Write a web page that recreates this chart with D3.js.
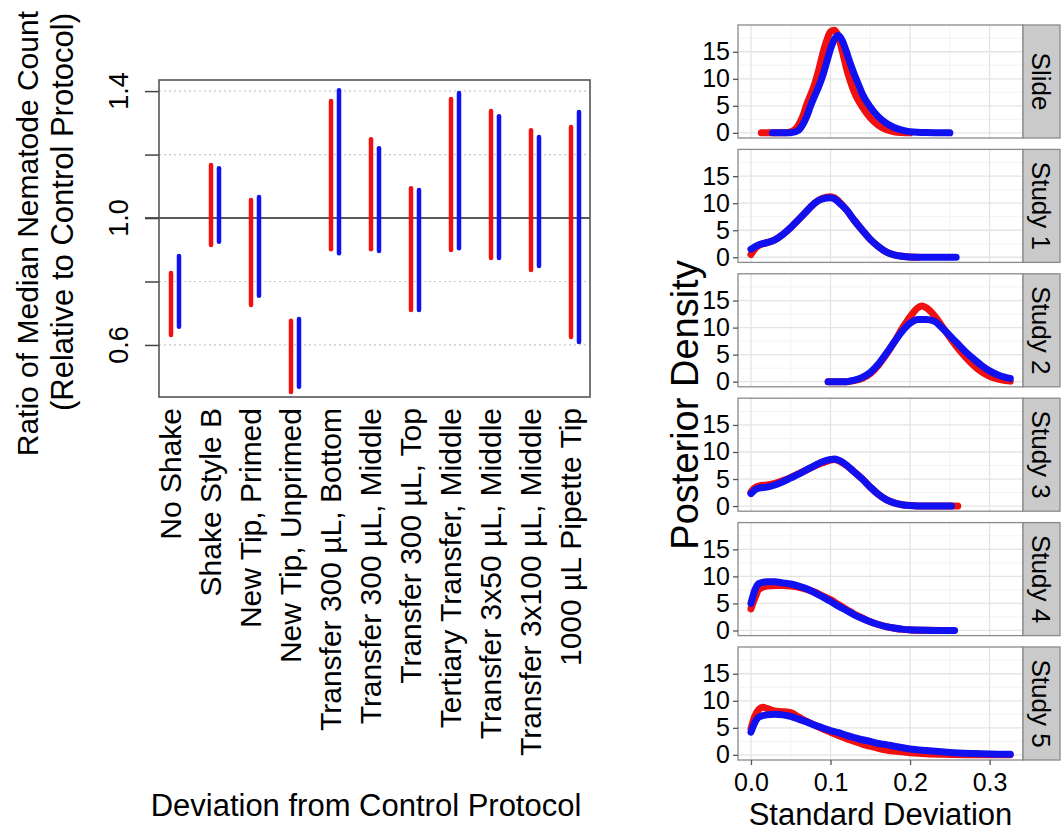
<!DOCTYPE html>
<html><head><meta charset="utf-8">
<script src="https://cdn.jsdelivr.net/npm/d3@7"></script>
<style>
html,body{margin:0;padding:0;background:#fff;}
text{font-family:"Liberation Sans",Arial,sans-serif;fill:#000;}
</style></head>
<body><svg id="c" width="1063" height="831"></svg>
<script>
// ---------- Left chart data ----------
const categories = ["No Shake","Shake Style B","New Tip, Primed","New Tip, Unprimed",
  "Transfer 300 µL, Bottom","Transfer 300 µL, Middle","Transfer 300 µL, Top",
  "Tertiary Transfer, Middle","Transfer 3x50 µL, Middle","Transfer 3x100 µL, Middle","1000 µL Pipette Tip"];
const redLow  = [0.631,0.915,0.726,0.452,0.902,0.902,0.710,0.899,0.874,0.836,0.625];
const redHigh = [0.827,1.167,1.057,0.676,1.369,1.248,1.094,1.375,1.337,1.277,1.287];
const blueLow = [0.657,0.925,0.755,0.468,0.889,0.896,0.710,0.905,0.874,0.849,0.609];
const blueHigh= [0.880,1.157,1.066,0.682,1.403,1.220,1.088,1.394,1.321,1.255,1.334];
const leftTicks = [0.6,0.8,1.0,1.2,1.4];
const leftTickLabels = [0.6,1.0,1.4];

// ---------- Right chart data ----------
const panels = ["Slide","Study 1","Study 2","Study 3","Study 4","Study 5"];
const redSlide = [[0.013,0],[0.04,0],[0.05,0.2],[0.06,1.5],[0.065,3],[0.07,5.2],[0.08,9],[0.085,11.5],[0.09,14.5],[0.095,17],[0.1,18.7],[0.105,19],[0.11,17.8],[0.115,15],[0.12,12],[0.125,9.5],[0.13,7.5],[0.14,4.8],[0.15,2.8],[0.16,1.4],[0.17,0.6],[0.18,0.2],[0.19,0.05],[0.2,0]];
const blueSlide = [[0.027,0],[0.05,0],[0.06,0.5],[0.065,1.5],[0.07,3],[0.075,5],[0.08,6.8],[0.085,8.5],[0.09,10.5],[0.095,13],[0.1,15.5],[0.105,17.3],[0.11,18],[0.115,17],[0.12,15],[0.125,12.8],[0.13,10.8],[0.135,9],[0.14,7.2],[0.15,4.8],[0.16,3],[0.17,1.8],[0.18,1],[0.19,0.5],[0.2,0.2],[0.22,0.05],[0.25,0]];
const redStudy1 = [[0,0.5],[0.005,1.6],[0.01,2.2],[0.02,2.7],[0.03,3.2],[0.04,4.2],[0.05,5.5],[0.06,7],[0.07,8.5],[0.08,10],[0.09,10.9],[0.1,11.2],[0.105,11],[0.11,10.4],[0.12,8.8],[0.13,6.8],[0.14,5],[0.15,3.3],[0.16,2],[0.17,1],[0.18,0.45],[0.19,0.18],[0.2,0.06],[0.21,0]];
const blueStudy1 = [[0,1.5],[0.01,2.3],[0.02,2.7],[0.03,3.2],[0.04,4.2],[0.05,5.5],[0.06,7],[0.07,8.5],[0.08,10],[0.09,10.8],[0.1,11],[0.105,10.8],[0.11,10.2],[0.12,8.8],[0.13,6.8],[0.14,5],[0.15,3.3],[0.16,2],[0.17,1],[0.18,0.45],[0.19,0.18],[0.2,0.06],[0.22,0],[0.258,0]];
const redStudy2 = [[0.097,0],[0.12,0],[0.13,0.2],[0.14,0.6],[0.15,1.5],[0.16,3],[0.17,5],[0.18,7.3],[0.19,9.8],[0.2,12],[0.21,13.7],[0.215,14],[0.22,13.7],[0.23,12.3],[0.24,10.3],[0.25,8.2],[0.26,6.2],[0.27,4.5],[0.28,3],[0.29,1.8],[0.3,1],[0.31,0.5],[0.32,0.2],[0.326,0.1]];
const blueStudy2 = [[0.097,0],[0.12,0],[0.13,0.3],[0.14,0.8],[0.15,1.7],[0.16,3.2],[0.17,5.2],[0.18,7.3],[0.19,9.3],[0.2,10.8],[0.21,11.5],[0.22,11.5],[0.23,11.2],[0.24,10],[0.25,8.5],[0.26,7],[0.27,5.5],[0.28,4.2],[0.29,3],[0.3,2],[0.31,1.3],[0.32,0.8],[0.326,0.6]];
const redStudy3 = [[0,2.6],[0.005,3.4],[0.01,3.7],[0.02,3.9],[0.03,4.2],[0.04,4.7],[0.05,5.3],[0.06,6],[0.07,6.7],[0.08,7.4],[0.09,8],[0.1,8.5],[0.105,8.6],[0.11,8.4],[0.12,7.5],[0.13,6.3],[0.14,5],[0.15,3.5],[0.16,2.2],[0.17,1.2],[0.18,0.6],[0.19,0.25],[0.2,0.1],[0.22,0],[0.26,0]];
const blueStudy3 = [[0,2.3],[0.005,3],[0.01,3.3],[0.02,3.5],[0.03,3.9],[0.04,4.5],[0.05,5.2],[0.06,5.9],[0.07,6.7],[0.08,7.5],[0.09,8.2],[0.1,8.6],[0.105,8.7],[0.11,8.5],[0.12,7.6],[0.13,6.3],[0.14,5],[0.15,3.5],[0.16,2.2],[0.17,1.2],[0.18,0.6],[0.19,0.25],[0.2,0.1],[0.22,0],[0.252,0]];
const redStudy4 = [[0,4],[0.005,6],[0.01,7.6],[0.02,8.2],[0.03,8.3],[0.04,8.3],[0.05,8.2],[0.06,8],[0.07,7.6],[0.08,7.1],[0.09,6.4],[0.1,5.7],[0.11,4.8],[0.12,3.9],[0.13,3],[0.14,2.3],[0.15,1.6],[0.16,1.1],[0.17,0.7],[0.18,0.4],[0.19,0.2],[0.2,0.1],[0.22,0.02],[0.24,0]];
const blueStudy4 = [[0,5],[0.005,7.5],[0.01,8.7],[0.02,9],[0.03,9],[0.04,8.8],[0.05,8.6],[0.06,8.2],[0.07,7.7],[0.08,7],[0.09,6.2],[0.1,5.4],[0.11,4.5],[0.12,3.7],[0.13,2.9],[0.14,2.2],[0.15,1.6],[0.16,1.1],[0.17,0.7],[0.18,0.45],[0.19,0.25],[0.2,0.12],[0.22,0.03],[0.256,0]];
const redStudy5 = [[0,4.8],[0.005,7.2],[0.01,8.4],[0.015,8.8],[0.02,8.6],[0.03,8.1],[0.04,8],[0.05,7.8],[0.06,7],[0.07,6.2],[0.08,5.5],[0.09,4.8],[0.1,4.2],[0.11,3.6],[0.12,3],[0.13,2.5],[0.14,2],[0.15,1.6],[0.16,1.2],[0.17,0.9],[0.18,0.7],[0.2,0.4],[0.22,0.2],[0.25,0.08],[0.28,0.02],[0.326,0]];
const blueStudy5 = [[0,4.2],[0.005,6],[0.01,7],[0.02,7.4],[0.03,7.5],[0.04,7.4],[0.05,7.1],[0.06,6.6],[0.07,6.1],[0.08,5.5],[0.09,5],[0.1,4.5],[0.11,4.1],[0.12,3.6],[0.13,3.2],[0.14,2.8],[0.15,2.5],[0.16,2.1],[0.17,1.9],[0.18,1.6],[0.2,1.1],[0.22,0.8],[0.25,0.45],[0.28,0.25],[0.3,0.15],[0.326,0.1]];
const redCurves = [redSlide,redStudy1,redStudy2,redStudy3,redStudy4,redStudy5];
const blueCurves = [blueSlide,blueStudy1,blueStudy2,blueStudy3,blueStudy4,blueStudy5];
const densTicks = [0,5,10,15];
const sdTicks = [0,0.1,0.2,0.3];

const RED = "#f01010", BLUE = "#1010f0";
const svg = d3.select("#c");

// ================= LEFT CHART =================
const L = {x0:159, x1:590, y0:80, y1:397};
const y = d3.scaleLinear().domain([0.436,1.435]).range([L.y1,L.y0]);
const x = d3.scalePoint().domain(categories).range([175,575]);
const gL = svg.append("g");

// dotted grid
gL.selectAll("line.grid").data(leftTicks.filter(v=>v!==1.0)).join("line")
  .attr("x1",L.x0).attr("x2",L.x1).attr("y1",d=>y(d)).attr("y2",d=>y(d))
  .attr("stroke","#c8c8c8").attr("stroke-width",1.2).attr("stroke-dasharray","2,3");
// reference line at 1.0
gL.append("line").attr("x1",L.x0-14).attr("x2",L.x1).attr("y1",y(1)).attr("y2",y(1))
  .attr("stroke","#222").attr("stroke-width",1.5);

// y axis
const yAxis = d3.axisLeft(y).tickValues(leftTicks).tickSize(14).tickFormat("");
const ya = gL.append("g").attr("transform",`translate(${L.x0},0)`).call(yAxis);
ya.select(".domain").remove();
ya.selectAll(".tick line").attr("stroke","#444").attr("stroke-width",1.5);
gL.selectAll("text.ytl").data(leftTickLabels).join("text")
  .attr("transform",d=>`translate(128,${y(d)}) rotate(-90)`)
  .attr("text-anchor","middle").attr("font-size",27).text(d=>d.toFixed(1));

// bars
categories.forEach((c,i)=>{
  gL.append("line").attr("x1",x(c)-4).attr("x2",x(c)-4)
    .attr("y1",y(redLow[i])).attr("y2",y(redHigh[i]))
    .attr("stroke",RED).attr("stroke-width",4.5).attr("stroke-linecap","round");
  gL.append("line").attr("x1",x(c)+4).attr("x2",x(c)+4)
    .attr("y1",y(blueLow[i])).attr("y2",y(blueHigh[i]))
    .attr("stroke",BLUE).attr("stroke-width",4.5).attr("stroke-linecap","round");
});

// box
gL.append("rect").attr("x",L.x0).attr("y",L.y0).attr("width",L.x1-L.x0).attr("height",L.y1-L.y0)
  .attr("fill","none").attr("stroke","#555").attr("stroke-width",1.6);

// x labels
gL.selectAll("text.xl").data(categories).join("text")
  .attr("transform",d=>`translate(${x(d)+6},408) rotate(-90)`)
  .attr("text-anchor","end").attr("font-size",30).text(d=>d);

// titles
gL.append("text").attr("transform","translate(38,11) rotate(-90)")
  .attr("text-anchor","end").attr("font-size",30).text("Ratio of Median Nematode Count");
gL.append("text").attr("transform","translate(73,13) rotate(-90)")
  .attr("text-anchor","end").attr("font-size",31).text("(Relative to Control Protocol)");
gL.append("text").attr("x",366).attr("y",816).attr("text-anchor","middle")
  .attr("font-size",31).text("Deviation from Control Protocol");

// ================= RIGHT CHART =================
const R = {x0:738, x1:1023, sx1:1060, top0:25, step:124.4, h:113};
const xs = d3.scaleLinear().domain([-0.0163,0.342]).range([R.x0,R.x1]);
const minorX = [0.05,0.15,0.25];
const minorY = [2.5,7.5,12.5,17.5];

panels.forEach((p,i)=>{
  const top = R.top0 + i*R.step, bot = top + R.h;
  const ys = d3.scaleLinear().domain([-0.95,19.95]).range([bot,top]);
  const g = svg.append("g");
  g.append("rect").attr("x",R.x0).attr("y",top).attr("width",R.x1-R.x0).attr("height",R.h).attr("fill","#fff");
  // minor grid
  g.selectAll("line.mx").data(minorX).join("line")
    .attr("x1",d=>xs(d)).attr("x2",d=>xs(d)).attr("y1",top).attr("y2",bot)
    .attr("stroke","#f3f3f3").attr("stroke-width",1);
  g.selectAll("line.my").data(minorY).join("line")
    .attr("y1",d=>ys(d)).attr("y2",d=>ys(d)).attr("x1",R.x0).attr("x2",R.x1)
    .attr("stroke","#f3f3f3").attr("stroke-width",1);
  // major grid
  g.selectAll("line.Mx").data(sdTicks).join("line")
    .attr("x1",d=>xs(d)).attr("x2",d=>xs(d)).attr("y1",top).attr("y2",bot)
    .attr("stroke","#e4e4e4").attr("stroke-width",1.3);
  g.selectAll("line.My").data(densTicks).join("line")
    .attr("y1",d=>ys(d)).attr("y2",d=>ys(d)).attr("x1",R.x0).attr("x2",R.x1)
    .attr("stroke","#e4e4e4").attr("stroke-width",1.3);
  // curves
  const line = d3.line().x(d=>xs(d[0])).y(d=>ys(d[1])).curve(d3.curveMonotoneX);
  g.append("path").attr("d",line(redCurves[i])).attr("fill","none")
    .attr("stroke",RED).attr("stroke-width",7).attr("stroke-linecap","round").attr("stroke-linejoin","round");
  g.append("path").attr("d",line(blueCurves[i])).attr("fill","none")
    .attr("stroke",BLUE).attr("stroke-width",7).attr("stroke-linecap","round").attr("stroke-linejoin","round");
  // border
  g.append("rect").attr("x",R.x0).attr("y",top).attr("width",R.x1-R.x0).attr("height",R.h)
    .attr("fill","none").attr("stroke","#8a8a8a").attr("stroke-width",1.3);
  // strip
  g.append("rect").attr("x",R.x1).attr("y",top).attr("width",R.sx1-R.x1).attr("height",R.h)
    .attr("fill","#cacaca").attr("stroke","#8a8a8a").attr("stroke-width",1.3);
  g.append("text").attr("transform",`translate(${(R.x1+R.sx1)/2},${top+R.h/2}) rotate(90)`)
    .attr("text-anchor","middle").attr("dy","0.35em").attr("font-size",26).attr("fill","#1a1a1a").text(p);
  // y axis
  const ax = g.append("g").attr("transform",`translate(${R.x0},0)`)
    .call(d3.axisLeft(ys).tickValues(densTicks).tickSize(5).tickPadding(3));
  ax.select(".domain").remove();
  ax.selectAll(".tick line").attr("stroke","#555").attr("stroke-width",1.3);
  ax.selectAll(".tick text").attr("font-size",25).attr("fill","#1a1a1a")
    .style("font-family",'"Liberation Sans",Arial,sans-serif');
  if(i===panels.length-1){
    const bx = g.append("g").attr("transform",`translate(0,${bot})`)
      .call(d3.axisBottom(xs).tickValues(sdTicks).tickSize(5).tickPadding(8).tickFormat(d3.format(".1f")));
    bx.select(".domain").remove();
    bx.selectAll(".tick line").attr("stroke","#555").attr("stroke-width",1.3);
    bx.selectAll(".tick text").attr("font-size",25).attr("fill","#1a1a1a")
      .style("font-family",'"Liberation Sans",Arial,sans-serif');
  }
});
svg.append("text").attr("x",(R.x0+R.x1)/2).attr("y",825).attr("text-anchor","middle")
  .attr("font-size",31).text("Standard Deviation");
svg.append("text").attr("transform","translate(698,405) rotate(-90)")
  .attr("text-anchor","middle").attr("font-size",38).text("Posterior Density");
</script></body></html>
